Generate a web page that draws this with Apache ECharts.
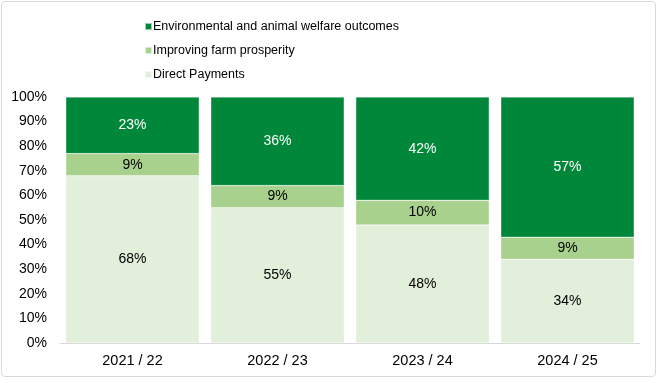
<!DOCTYPE html>
<html><head><meta charset="utf-8">
<script src="https://cdn.jsdelivr.net/npm/echarts@6/dist/echarts.min.js"></script>
<style>html,body{margin:0;padding:0;background:#fff}#c{width:660px;height:383px}
#frame{position:absolute;left:1px;top:1px;width:653px;height:374px;border:1px solid #d9d9d9;border-radius:4px;pointer-events:none}</style>
</head><body><div id="c"></div><div id="frame"></div>
<script>
const categories = ['2021 / 22', '2022 / 23', '2023 / 24', '2024 / 25'];
const directPayments = [68, 55, 48, 34];
const farmProsperity = [9, 9, 10, 9];
const envOutcomes = [23, 36, 42, 57];
const seriesNames = ['Direct Payments', 'Improving farm prosperity', 'Environmental and animal welfare outcomes'];
const colors = ['#e2efda', '#a9d18e', '#00873a'];
const labelColors = ['#000', '#000', '#fff'];
const values = [directPayments, farmProsperity, envOutcomes];

const chart = echarts.init(document.getElementById('c'));
chart.setOption({
  animation: false,
  textStyle: { fontFamily: 'Liberation Sans, Arial, sans-serif' },
  legend: {
    orient: 'vertical', left: 144, top: 20, padding: 0, itemWidth: 7, itemHeight: 7, itemGap: 11,
    icon: 'rect',
    data: [seriesNames[2], seriesNames[1], seriesNames[0]],
    textStyle: { fontSize: 12.5, color: '#000', padding: [0, 0, 0, -4] }
  },
  grid: { left: 60, right: 20, top: 97, bottom: 40, containLabel: false },
  xAxis: {
    type: 'category', data: categories,
    axisLine: { lineStyle: { color: '#d9d9d9' } }, axisTick: { show: false },
    axisLabel: { fontSize: 14.5, color: '#000', margin: 10 }
  },
  yAxis: {
    type: 'value', min: 0, max: 100, interval: 10,
    axisLabel: { formatter: '{value}%', fontSize: 14, color: '#000', margin: 13 },
    splitLine: { show: false }, axisLine: { show: false }, axisTick: { show: false }
  },
  series: values.map((v, i) => ({
    name: seriesNames[i], type: 'bar', stack: 'total', data: v,
    barCategoryGap: '8%',
    itemStyle: { color: colors[i], borderColor: 'rgba(255,255,255,0.6)', borderWidth: 0.5 },
    label: { show: true, position: 'inside', formatter: '{c}%', fontSize: 14, color: labelColors[i] }
  }))
});
</script></body></html>
